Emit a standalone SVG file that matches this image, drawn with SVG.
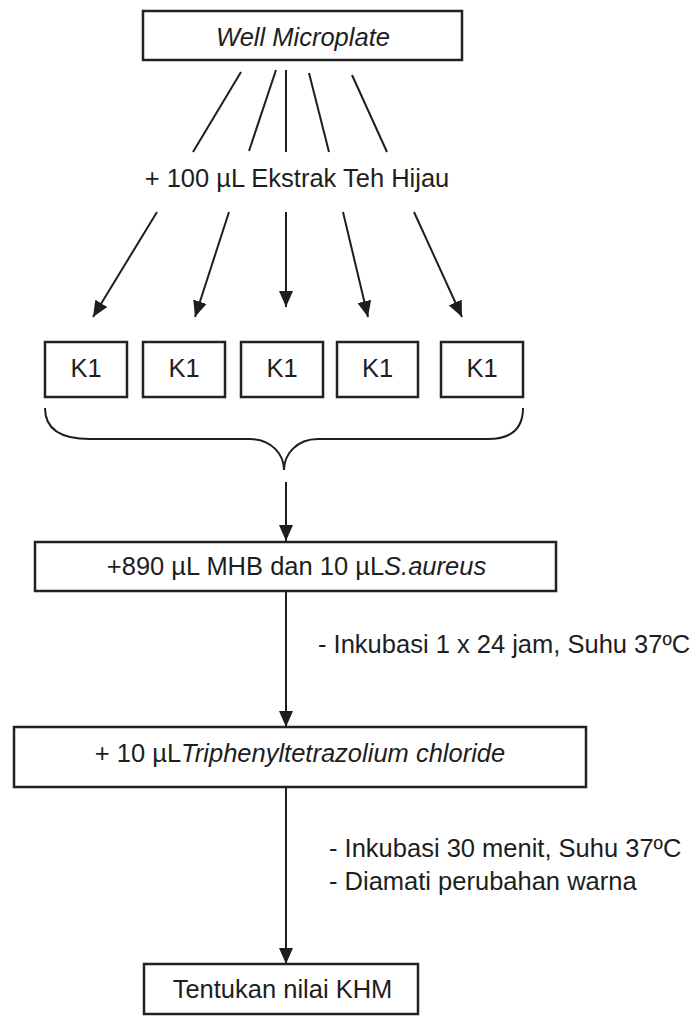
<svg xmlns="http://www.w3.org/2000/svg" width="698" height="1017" viewBox="0 0 698 1017">
<style>
  .box { fill: #ffffff; stroke: #222222; stroke-width: 2.5; }
  .t { font-family: "Liberation Sans", Arial, sans-serif; font-size: 25.5px; fill: #1e1e1e; }
  .mid { text-anchor: middle; }
  .it { font-style: italic; }
  .ln { stroke: #1e1e1e; stroke-width: 2; fill: none; }
  .ar { stroke: #1e1e1e; stroke-width: 2; fill: none; marker-end: url(#arr); }
</style>
<defs>
  <marker id="arr" markerUnits="userSpaceOnUse" markerWidth="16" markerHeight="14" refX="16" refY="7" orient="auto">
    <path d="M0,0 L16,7 L0,14 Z" fill="#1e1e1e"/>
  </marker>
</defs>
<rect width="698" height="1017" fill="#ffffff"/>

<g id="connectors">
  <line class="ln" x1="241" y1="72" x2="193" y2="152"/>
  <line class="ln" x1="276" y1="70" x2="249" y2="151"/>
  <line class="ln" x1="286" y1="70" x2="286" y2="152"/>
  <line class="ln" x1="309" y1="73" x2="329" y2="152"/>
  <line class="ln" x1="352" y1="75" x2="387" y2="152"/>

  <line class="ar" x1="157" y1="212" x2="93" y2="317"/>
  <line class="ar" x1="229" y1="212" x2="195" y2="317"/>
  <line class="ar" x1="286" y1="212" x2="286" y2="307"/>
  <line class="ar" x1="343" y1="212" x2="368" y2="317"/>
  <line class="ar" x1="414" y1="212" x2="462" y2="317"/>

  <path class="ln" d="M45,408 C45,430 62,439 90,439 L250,439 C272,439 284,455 284,470 C284,455 296,439 318,439 L488,439 C510,439 523,430 523,408"/>

  <line class="ar" x1="286" y1="482" x2="286" y2="541"/>
  <line class="ar" x1="286" y1="591" x2="286" y2="727"/>
  <line class="ar" x1="286" y1="788" x2="286" y2="964"/>
</g>

<g id="well-microplate">
  <rect class="box" x="143" y="11" width="319" height="49"/>
  <text class="t it mid" x="303" y="46">Well Microplate</text>
</g>

<g id="label-ekstrak">
  <text class="t mid" x="297" y="187">+ 100 µL Ekstrak Teh Hijau</text>
</g>

<g id="k1-1">
  <rect class="box" x="45" y="342" width="82" height="55"/>
  <text class="t mid" x="86" y="377">K1</text>
</g>
<g id="k1-2">
  <rect class="box" x="143" y="342" width="82" height="55"/>
  <text class="t mid" x="184" y="377">K1</text>
</g>
<g id="k1-3">
  <rect class="box" x="241" y="342" width="82" height="55"/>
  <text class="t mid" x="282" y="377">K1</text>
</g>
<g id="k1-4">
  <rect class="box" x="337" y="342" width="81" height="55"/>
  <text class="t mid" x="377.5" y="377">K1</text>
</g>
<g id="k1-5">
  <rect class="box" x="441" y="342" width="82" height="55"/>
  <text class="t mid" x="482" y="377">K1</text>
</g>

<g id="mhb">
  <rect class="box" x="35" y="542" width="521" height="49"/>
  <text class="t mid" x="296.5" y="575">+890 µL MHB dan 10 µL<tspan class="it">S.aureus</tspan></text>
</g>

<g id="label-inkubasi-1">
  <text class="t" x="318" y="653">- Inkubasi 1 x 24 jam, Suhu 37ºC</text>
</g>

<g id="ttc">
  <rect class="box" x="14" y="727" width="572" height="60"/>
  <text class="t mid" x="300" y="762">+ 10 µL<tspan class="it">Triphenyltetrazolium chloride</tspan></text>
</g>

<g id="label-inkubasi-2">
  <text class="t" x="329" y="857">- Inkubasi 30 menit, Suhu 37ºC</text>
  <text class="t" x="329" y="890">- Diamati perubahan warna</text>
</g>

<g id="khm">
  <rect class="box" x="144" y="964" width="274" height="50"/>
  <text class="t mid" x="282.5" y="998">Tentukan nilai KHM</text>
</g>
</svg>
